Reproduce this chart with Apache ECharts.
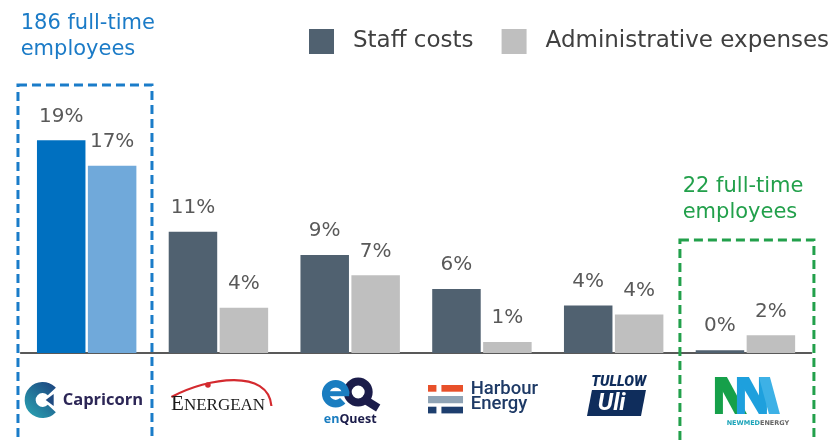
<!DOCTYPE html>
<html>
<head>
<meta charset="utf-8">
<script src="https://cdn.jsdelivr.net/npm/echarts@6/dist/echarts.min.js"></script>
<style>html,body{margin:0;padding:0;background:#fff;}#c{width:838px;height:440px;}</style>
</head>
<body>
<div id="c"></div>
<script>
const categories = ['Capricorn', 'Energean', 'EnQuest', 'Harbour Energy', 'Tullow', 'NewMed Energy'];
const seriesNames = ['Staff costs', 'Administrative expenses'];
const staffCosts = [19.3, 11.0, 8.9, 5.8, 4.3, 0.25];
const adminExpenses = [17.0, 4.1, 7.05, 1.0, 3.5, 1.6];
const noteCapricorn = '186 full-time\nemployees';
const noteNewMed = '22 full-time\nemployees';

const FONT = 'DejaVu Sans';
const chart = echarts.init(document.getElementById('c'), null, {renderer: 'canvas'});

function mark(values, hiColor) {
  return values.map((v, i) => i === 0 ? {value: v, itemStyle: {color: hiColor}} : v);
}
const labelOpt = {
  show: true, position: 'top', distance: 14,
  formatter: p => Math.round(p.value) + '%',
  color: '#595959', fontSize: 20, fontFamily: FONT
};

chart.setOption({
  animation: false,
  backgroundColor: '#ffffff',
  grid: {left: 20.8, right: 26.7, top: 77.5, bottom: 87, containLabel: false},
  legend: {
    left: 309, top: 29, width: 700, itemWidth: 25, itemHeight: 25, itemGap: 28,
    icon: 'rect', padding: 0,
    textStyle: {fontSize: 23, fontFamily: FONT, color: '#404040', padding: [0, 0, 0, 14]},
    data: seriesNames
  },
  xAxis: {
    type: 'category', data: categories,
    axisLine: {lineStyle: {color: '#595959', width: 2}},
    axisTick: {show: false}, axisLabel: {show: false}, splitLine: {show: false}
  },
  yAxis: {type: 'value', min: 0, max: 25, show: false, splitLine: {show: false}},
  series: [
    {name: seriesNames[0], type: 'bar', barWidth: 48.5, barGap: '5%',
     itemStyle: {color: '#506170'}, label: labelOpt, data: mark(staffCosts, '#0070C0')},
    {name: seriesNames[1], type: 'bar', barWidth: 48.5, barGap: '5%',
     itemStyle: {color: '#BFBFBF'}, label: labelOpt, data: mark(adminExpenses, '#70A9DA')}
  ]
});

const y0 = chart.convertToPixel({yAxisIndex: 0}, 0);
const cx = categories.map(c => chart.convertToPixel({xAxisIndex: 0}, c));

const gfx = [];
// dashed highlight boxes
gfx.push({type: 'rect', shape: {x: cx[0] - 68.7, y: 85, width: 134, height: 420},
  style: {fill: null, stroke: '#1A7CC9', lineWidth: 3, lineDash: [9, 5]}, z: 10});
gfx.push({type: 'rect', shape: {x: cx[5] - 65.5, y: 240, width: 134, height: 260},
  style: {fill: null, stroke: '#22A04B', lineWidth: 3, lineDash: [9, 5]}, z: 10});
// notes
gfx.push({type: 'text', x: 20.7, y: 36.5, style: {text: noteCapricorn, fill: '#1B7BC7', fontSize: 21,
  fontFamily: FONT, lineHeight: 26, align: 'left', verticalAlign: 'middle'}});
gfx.push({type: 'text', x: 682.7, y: 199.4, style: {text: noteNewMed, fill: '#22A04B', fontSize: 21,
  fontFamily: FONT, lineHeight: 26, align: 'left', verticalAlign: 'middle'}});

// Capricorn logo
gfx.push({type: 'group', x: cx[0], y: y0, children: [
  {type: 'arc', shape: {cx: -44, cy: 47, r: 12.5, startAngle: 0.75, endAngle: Math.PI * 2 - 0.75, clockwise: true},
   style: {fill: null, lineWidth: 11,
     stroke: new echarts.graphic.LinearGradient(1, 0, 0, 1, [{offset: 0, color: '#1C3F7C'}, {offset: 1, color: '#2AA8B5'}])}},
  {type: 'polygon', shape: {points: [[-41, 47], [-33, 41], [-33, 53]]}, style: {fill: '#1F4A80'}},
  {type: 'text', x: -24, y: 47, style: {text: 'Capricorn', fill: '#2C2656', fontSize: 16.5, fontWeight: 'bold',
    fontFamily: 'Open Sans', align: 'left', verticalAlign: 'middle'}}
]});

// Energean logo
gfx.push({type: 'group', x: cx[1], y: y0, children: [
  {type: 'bezierCurve', shape: {x1: -47, y1: 44, cpx1: -10, cpy1: 24, cpx2: 50, cpy2: 16, x2: 53, y2: 53},
   style: {fill: null, stroke: '#D42A2F', lineWidth: 2.2}},
  {type: 'circle', shape: {cx: -10.5, cy: 32, r: 2.8}, style: {fill: '#D42A2F'}},
  {type: 'text', x: -47.5, y: 57 + 4.5, style: {text: 'E', fill: '#1A1A1A', fontSize: 21,
    fontFamily: 'Liberation Serif', align: 'left', verticalAlign: 'bottom'}},
  {type: 'text', x: -34.5, y: 57 + 3.7, style: {text: 'NERGEAN', fill: '#1A1A1A', fontSize: 17,
    fontFamily: 'Liberation Serif', align: 'left', verticalAlign: 'bottom'}}
]});

// EnQuest logo
gfx.push({type: 'group', x: cx[2], y: y0, children: [
  {type: 'arc', shape: {cx: 8, cy: 39, r: 10.5, startAngle: 0, endAngle: Math.PI * 2, clockwise: true},
   style: {fill: null, stroke: '#1B1C4A', lineWidth: 8}},
  {type: 'line', shape: {x1: 12, y1: 45, x2: 28, y2: 55}, style: {stroke: '#1B1C4A', lineWidth: 8}},
  {type: 'arc', shape: {cx: -14.5, cy: 40.7, r: 10, startAngle: 0, endAngle: -1.75 * Math.PI, clockwise: false},
   style: {fill: null, stroke: '#1A7DC0', lineWidth: 7.5}},
  {type: 'line', shape: {x1: -27, y1: 40.7, x2: -1, y2: 40.7}, style: {stroke: '#1A7DC0', lineWidth: 5}},
  {type: 'text', x: 0, y: 66, style: {text: '{a|en}{b|Quest}', align: 'center', verticalAlign: 'middle',
    rich: {a: {fill: '#1A7DC0', fontSize: 12.5, fontWeight: 'bold', fontFamily: 'Open Sans'},
           b: {fill: '#1B1C4A', fontSize: 12.5, fontWeight: 'bold', fontFamily: 'Open Sans'}}}}
]});

// Harbour Energy logo
gfx.push({type: 'group', x: cx[3], y: y0, children: [
  {type: 'rect', shape: {x: -53.9, y: 32, width: 8.4, height: 6.7}, style: {fill: '#E8502A'}},
  {type: 'rect', shape: {x: -40.5, y: 32, width: 21.6, height: 6.7}, style: {fill: '#E8502A'}},
  {type: 'rect', shape: {x: -53.9, y: 43, width: 35, height: 7.3}, style: {fill: '#8FA3B5'}},
  {type: 'rect', shape: {x: -53.9, y: 53.7, width: 8.4, height: 6.7}, style: {fill: '#1D3E6E'}},
  {type: 'rect', shape: {x: -40.5, y: 53.7, width: 21.6, height: 6.7}, style: {fill: '#1D3E6E'}},
  {type: 'text', x: -11.2, y: 36, style: {text: 'Harbour', fill: '#1E3A66', fontSize: 18.5, fontWeight: 500,
    fontFamily: 'Roboto', align: 'left', verticalAlign: 'middle'}},
  {type: 'text', x: -11.2, y: 51, style: {text: 'Energy', fill: '#1E3A66', fontSize: 18.5, fontWeight: 500,
    fontFamily: 'Roboto', align: 'left', verticalAlign: 'middle'}}
]});

// Tullow logo
gfx.push({type: 'group', x: cx[4], y: y0, children: [
  {type: 'text', x: -22.5, y: 29.5, style: {text: 'TULLOW', fill: '#0F2D5C', fontSize: 14.5, fontWeight: 900,
    fontStyle: 'italic', fontFamily: 'Roboto', align: 'left', verticalAlign: 'middle'}},
  {type: 'polygon', shape: {points: [[-21.7, 37], [32.3, 37], [27.3, 63], [-26.7, 63]]}, style: {fill: '#0F2D5C'}},
  {type: 'text', x: -2, y: 50.5, style: {text: 'Uli', fill: '#FFFFFF', fontSize: 24, fontWeight: 'bold',
    fontStyle: 'italic', fontFamily: 'Roboto', align: 'center', verticalAlign: 'middle'}}
]});

// NewMed logo
gfx.push({type: 'group', x: cx[5], y: y0, children: [
  {type: 'polygon', shape: {points: [[-30.5, 24], [-22.5, 24], [-22.5, 61], [-30.5, 61]]}, style: {fill: '#16A04A'}},
  {type: 'polygon', shape: {points: [[-30.5, 24], [-18.5, 24], [1.5, 61], [-10.5, 61]]}, style: {fill: '#16A04A'}},
  {type: 'polygon', shape: {points: [[-8.5, 24], [-0.5, 24], [-0.5, 61], [-8.5, 61]]}, style: {fill: '#1EA0DD'}},
  {type: 'polygon', shape: {points: [[-8.5, 24], [3.5, 24], [21.5, 57], [13.5, 61]]}, style: {fill: '#1EA0DD'}},
  {type: 'polygon', shape: {points: [[13.5, 24], [21.5, 24], [21.5, 61], [13.5, 61]]}, style: {fill: '#1EA0DD'}},
  {type: 'polygon', shape: {points: [[13.5, 24], [24.5, 24], [34.5, 61], [23.5, 61]]}, style: {fill: '#3DB1E6'}},
  {type: 'text', x: 12.5, y: 70, style: {text: '{a|NEWMED}{b|ENERGY}', align: 'center', verticalAlign: 'middle',
    rich: {a: {fill: '#1AA3B8', fontSize: 6.5, fontWeight: 'bold', fontFamily: 'DejaVu Sans'},
           b: {fill: '#666666', fontSize: 6.5, fontWeight: 'bold', fontFamily: 'DejaVu Sans'}}}}
]});

chart.setOption({graphic: gfx});
</script>
</body>
</html>
